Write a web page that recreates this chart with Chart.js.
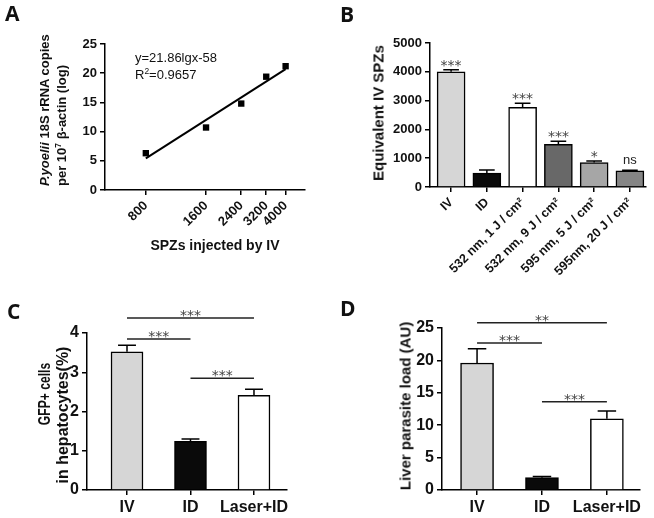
<!DOCTYPE html>
<html>
<head>
<meta charset="utf-8">
<script src="https://cdn.jsdelivr.net/npm/chart.js@4"></script>
<style>
  body { margin: 0; background: #fff; }
  #wrap { position: relative; width: 654px; height: 518px; overflow: hidden; font-family: "Liberation Sans", Arial, sans-serif; color: #111; }
  canvas { position: absolute; }
  .t { position: absolute; white-space: nowrap; line-height: 1; }
  .b { font-weight: bold; }
  .rot { transform: translate(-50%, -50%) rotate(-90deg); }
  .ctr { transform: translate(-50%, -50%); }
  .lbl { font-family: "Open Sans", sans-serif; font-weight: 700; font-size: 21px; }
  sup { font-size: 0.65em; line-height: 0; }
</style>
</head>
<body>
<div id="wrap">
  <canvas id="cA" width="330" height="270" style="left:0;top:0"></canvas>
  <canvas id="cB" width="324" height="290" style="left:330px;top:0"></canvas>
  <canvas id="cC" width="330" height="238" style="left:0;top:280px"></canvas>
  <canvas id="cD" width="324" height="228" style="left:330px;top:290px"></canvas>

  <div class="t lbl" style="left:5px;top:3px">A</div>
  <div class="t lbl" style="left:340px;top:4px">B</div>
  <div class="t lbl" style="left:7px;top:301px">C</div>
  <div class="t lbl" style="left:340px;top:298px">D</div>

  <div class="t" style="left:135px;top:51px;font-size:13px">y=21.86lgx-58</div>
  <div class="t" style="left:135px;top:68px;font-size:13px">R<sup>2</sup>=0.9657</div>
  <div class="t b ctr" style="left:215px;top:245px;font-size:14px">SPZs injected by IV</div>
  <div class="t b" style="left:36px;top:186px;font-size:13px;line-height:17px;transform-origin:0 0;transform:rotate(-90deg)"><i>P.yoelii</i> 18S rRNA copies<br>per 10<sup>7</sup> &beta;-actin (log)</div>

  <div class="t b rot" style="left:378px;top:113px;font-size:15px">Equivalent IV SPZs</div>
  <div class="t b" style="left:45px;top:394px;font-size:16px;transform:translate(-50%, -50%) rotate(-90deg) scaleX(0.76)">GFP+ cells</div>
  <div class="t b rot" style="left:63px;top:415px;font-size:16px">in hepatocytes(%)</div>
  <div class="t b rot" style="left:405px;top:406px;font-size:15px">Liver parasite load (AU)</div>
</div>

<script>
// A: rRNA copies vs SPZs injected
const spzDose = [800, 1600, 2400, 3200, 4000];
const rrnaCopies = [6.3, 10.7, 14.8, 19.4, 21.2];
const fitDose = [800, 4000];
const fitCopies = [5.4, 20.7];

// B: equivalent IV SPZs
const bLabels = ['IV', 'ID', '532 nm, 1 J / cm²', '532 nm, 9 J / cm²', '595 nm, 5 J / cm²', '595nm, 20 J / cm²'];
const bValues = [4000, 480, 2770, 1480, 850, 560];
const bErrors = [70, 110, 140, 110, 50, 25];
const bSig = ['***', '', '***', '***', '*', 'ns'];
const bFill = ['#d6d6d6', '#0a0a0a', '#ffffff', '#686868', '#a6a6a6', '#858585'];

// C: GFP+ cells
const groups = ['IV', 'ID', 'Laser+ID'];
const cValues = [3.52, 1.24, 2.41];
const cErrors = [0.17, 0.06, 0.16];
const cFrom = [0, 0, 1];
const cTo = [2, 1, 2];
const cLevel = [4.38, 3.85, 2.85];
const cText = ['***', '***', '***'];

// D: liver parasite load
const dValues = [19.6, 1.9, 11.0];
const dErrors = [2.2, 0.2, 1.2];
const dFrom = [0, 0, 1];
const dTo = [2, 1, 2];
const dLevel = [25.8, 22.7, 13.6];
const dText = ['**', '***', '***'];

const groupFill = ['#d6d6d6', '#0a0a0a', '#ffffff'];

Chart.defaults.font.family = '"Liberation Sans", Arial, sans-serif';
Chart.defaults.font.weight = 'bold';
Chart.defaults.color = '#111';
Chart.defaults.animation = false;
Chart.defaults.responsive = false;
Chart.defaults.plugins.legend.display = false;
Chart.defaults.plugins.tooltip.enabled = false;

const border = { color: '#000', width: 1.5 };
const grid = { drawOnChartArea: false, color: '#000', lineWidth: 1.5, tickLength: 5, offset: false };

// error bars (upper only), labels above bars and brackets
function marks(errors, sig, br) {
  return {
    id: 'marks',
    afterDatasetsDraw(chart) {
      const ctx = chart.ctx;
      const xs = chart.scales.x, ys = chart.scales.y;
      const bars = chart.getDatasetMeta(0).data;
      const vals = chart.data.datasets[0].data;
      ctx.save();
      ctx.strokeStyle = '#000';
      ctx.lineWidth = 1.5;
      bars.forEach((bar, i) => {
        const top = ys.getPixelForValue(vals[i].y + errors[i]);
        const half = bar.width * 0.28;
        ctx.beginPath();
        ctx.moveTo(bar.x, bar.y);
        ctx.lineTo(bar.x, top);
        ctx.moveTo(bar.x - half, top);
        ctx.lineTo(bar.x + half, top);
        ctx.stroke();
        if (sig && sig[i]) {
          const stars = sig[i].includes('*');
          ctx.fillStyle = stars ? '#444' : '#222';
          ctx.font = stars ? '14px "DejaVu Sans"' : '13px "Liberation Sans"';
          ctx.textAlign = 'center';
          ctx.textBaseline = 'alphabetic';
          ctx.fillText(sig[i], bar.x, top - (stars ? 0 : 6));
        }
      });
      if (br) {
        ctx.strokeStyle = '#222';
        br.from.forEach((f, k) => {
          const x1 = xs.getPixelForValue(f), x2 = xs.getPixelForValue(br.to[k]);
          const y = ys.getPixelForValue(br.level[k]);
          ctx.beginPath();
          ctx.moveTo(x1, y);
          ctx.lineTo(x2, y);
          ctx.stroke();
          ctx.fillStyle = '#444';
          ctx.font = '14px "DejaVu Sans"';
          ctx.textAlign = 'center';
          ctx.textBaseline = 'alphabetic';
          ctx.fillText(br.text[k], (x1 + x2) / 2, y + 2);
        });
      }
      ctx.restore();
    }
  };
}

// A
new Chart(document.getElementById('cA'), {
  type: 'scatter',
  data: {
    datasets: [
      {
        data: spzDose.map((x, i) => ({ x, y: rrnaCopies[i] })),
        pointStyle: 'rect', pointRadius: 4.5, backgroundColor: '#000', borderColor: '#000', borderWidth: 0
      },
      {
        data: fitDose.map((x, i) => ({ x, y: fitCopies[i] })),
        showLine: true, pointRadius: 0, borderColor: '#000', borderWidth: 2
      }
    ]
  },
  options: {
    layout: { padding: { top: 44, right: 25, left: 0, bottom: 0 } },
    scales: {
      x: {
        type: 'logarithmic', min: 500, max: 5000,
        border, grid,
        afterBuildTicks: (s) => { s.ticks = spzDose.map(v => ({ value: v })); },
        afterFit: (s) => { s.height = 80; },
        ticks: { font: { size: 13 }, minRotation: 45, maxRotation: 45, autoSkip: false, padding: 3, callback: (v) => String(v) }
      },
      y: {
        min: 0, max: 25,
        border, grid,
        afterFit: (s) => { s.width = 105; },
        ticks: { stepSize: 5, font: { size: 13 }, padding: 3, callback: (v) => String(v) }
      }
    }
  }
});

// shared bar chart builder
function barChart(id, labels, values, errors, fill, opts) {
  return new Chart(document.getElementById(id), {
    type: 'bar',
    data: {
      datasets: [{
        data: values.map((y, x) => ({ x, y })),
        backgroundColor: fill, borderColor: '#000', borderWidth: 1.5,
        borderSkipped: 'bottom', barThickness: opts.barWidth
      }]
    },
    options: {
      layout: { padding: opts.padding },
      scales: {
        x: {
          type: 'linear', offset: false, min: opts.xMin, max: opts.xMax,
          border, grid,
          afterBuildTicks: (s) => { s.ticks = labels.map((_, i) => ({ value: i })); },
          afterFit: (s) => { s.height = opts.xHeight; },
          ticks: {
            font: { size: opts.xFont }, autoSkip: false, padding: 3,
            minRotation: opts.rot, maxRotation: opts.rot,
            callback: (v) => labels[v]
          }
        },
        y: {
          min: 0, max: opts.yMax,
          border, grid,
          afterFit: (s) => { s.width = opts.yWidth; },
          ticks: { stepSize: opts.yStep, font: { size: opts.yFont }, padding: 3, callback: (v) => String(v) }
        }
      }
    },
    plugins: [marks(errors, opts.sig, opts.brackets)]
  });
}

barChart('cB', bLabels, bValues, bErrors, bFill, {
  barWidth: 28, padding: { top: 43, right: 8, left: 0, bottom: 0 },
  xMin: -0.59, xMax: 5.45, xHeight: 103, xFont: 12.5, rot: 45,
  yMax: 5000, yStep: 1000, yWidth: 100, yFont: 13,
  sig: bSig
});

barChart('cC', groups, cValues, cErrors, groupFill, {
  barWidth: 32, padding: { top: 53, right: 43, left: 0, bottom: 0 },
  xMin: -0.63, xMax: 2.52, xHeight: 28, xFont: 16, rot: 0,
  yMax: 4, yStep: 1, yWidth: 87, yFont: 16,
  brackets: { from: cFrom, to: cTo, level: cLevel, text: cText }
});

barChart('cD', groups, dValues, dErrors, groupFill, {
  barWidth: 33, padding: { top: 38, right: 14, left: 0, bottom: 0 },
  xMin: -0.54, xMax: 2.51, xHeight: 28, xFont: 16, rot: 0,
  yMax: 25, yStep: 5, yWidth: 112, yFont: 16,
  brackets: { from: dFrom, to: dTo, level: dLevel, text: dText }
});
</script>
</body>
</html>
